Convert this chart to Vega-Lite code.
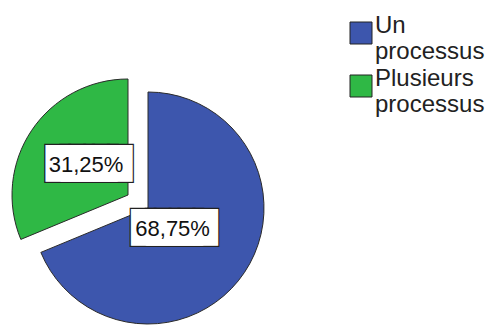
{
  "$schema": "https://vega.github.io/schema/vega-lite/v6.json",
  "width": 232,
  "height": 232,
  "autosize": {"type": "none"},
  "padding": {"left": 32, "top": 92, "right": 224, "bottom": 3},
  "background": "white",
  "config": {"view": {"stroke": null}},
  "data": {
    "values": [
      {"cat": "Un processus", "value": 22, "label": "68,75%"},
      {"cat": "Plusieurs processus", "value": 10, "label": "31,25%"}
    ]
  },
  "encoding": {
    "theta": {"field": "value", "type": "quantitative", "stack": true},
    "order": {"field": "value", "sort": "descending"}
  },
  "layer": [
    {
      "mark": {"type": "arc", "radius": 116, "stroke": "#2a2a2a", "strokeWidth": 1},
      "encoding": {
        "color": {
          "field": "cat", "type": "nominal",
          "scale": {"domain": ["Un processus", "Plusieurs processus"], "range": ["#3d56ad", "#2fb845"]},
          "legend": {
            "orient": "none", "legendX": 317, "legendY": -71, "title": null,
            "symbolType": "square", "symbolSize": 484, "symbolStrokeColor": "#222", "symbolStrokeWidth": 1,
            "labelFont": "Liberation Sans", "labelFontSize": 24, "labelColor": "#222", "labelBaseline": "alphabetic",
            "labelExpr": "split(datum.label, ' ')", "labelOffset": 2, "rowPadding": 3
          }
        },
        "opacity": {"condition": {"test": "datum.cat === 'Un processus'", "value": 1}, "value": 0}
      }
    },
    {
      "mark": {"type": "arc", "radius": 116, "stroke": "#2a2a2a", "strokeWidth": 1, "xOffset": -20, "yOffset": -13},
      "encoding": {
        "color": {"field": "cat", "type": "nominal"},
        "opacity": {"condition": {"test": "datum.cat === 'Plusieurs processus'", "value": 1}, "value": 0}
      }
    },
    {
      "mark": {"type": "text", "radius": 32, "text": "███", "font": "DejaVu Sans", "fontSize": 31, "fill": "white", "stroke": "#222", "strokeWidth": 2.5, "baseline": "middle", "align": "center", "dx": -7.5, "dy": 3},
      "encoding": {"opacity": {"condition": {"test": "datum.cat === 'Un processus'", "value": 1}, "value": 0}}
    },
    {
      "mark": {"type": "text", "radius": 32, "text": "███", "font": "DejaVu Sans", "fontSize": 31, "fill": "white", "stroke": "#222", "strokeWidth": 2.5, "baseline": "middle", "align": "center", "dx": 7.5, "dy": 3},
      "encoding": {"opacity": {"condition": {"test": "datum.cat === 'Un processus'", "value": 1}, "value": 0}}
    },
    {
      "mark": {"type": "text", "radius": 32, "text": "███", "font": "DejaVu Sans", "fontSize": 31, "fill": "white", "baseline": "middle", "align": "center", "dx": -7.5, "dy": 3},
      "encoding": {"opacity": {"condition": {"test": "datum.cat === 'Un processus'", "value": 1}, "value": 0}}
    },
    {
      "mark": {"type": "text", "radius": 32, "text": "███", "font": "DejaVu Sans", "fontSize": 31, "fill": "white", "baseline": "middle", "align": "center", "dx": 7.5, "dy": 3},
      "encoding": {"opacity": {"condition": {"test": "datum.cat === 'Un processus'", "value": 1}, "value": 0}}
    },
    {
      "mark": {"type": "text", "radius": 32, "font": "Liberation Sans", "fontSize": 22, "fill": "#111", "baseline": "middle", "align": "center", "dx": -2, "dy": 3},
      "encoding": {
        "text": {"field": "label"},
        "opacity": {"condition": {"test": "datum.cat === 'Un processus'", "value": 1}, "value": 0}
      }
    },
    {
      "mark": {"type": "text", "radius": 54, "xOffset": -20, "yOffset": -13, "text": "███", "font": "DejaVu Sans", "fontSize": 31, "fill": "white", "stroke": "#222", "strokeWidth": 2.5, "baseline": "middle", "align": "center", "dx": -1.5},
      "encoding": {"opacity": {"condition": {"test": "datum.cat === 'Plusieurs processus'", "value": 1}, "value": 0}}
    },
    {
      "mark": {"type": "text", "radius": 54, "xOffset": -20, "yOffset": -13, "text": "███", "font": "DejaVu Sans", "fontSize": 31, "fill": "white", "stroke": "#222", "strokeWidth": 2.5, "baseline": "middle", "align": "center", "dx": 13.5},
      "encoding": {"opacity": {"condition": {"test": "datum.cat === 'Plusieurs processus'", "value": 1}, "value": 0}}
    },
    {
      "mark": {"type": "text", "radius": 54, "xOffset": -20, "yOffset": -13, "text": "███", "font": "DejaVu Sans", "fontSize": 31, "fill": "white", "baseline": "middle", "align": "center", "dx": -1.5},
      "encoding": {"opacity": {"condition": {"test": "datum.cat === 'Plusieurs processus'", "value": 1}, "value": 0}}
    },
    {
      "mark": {"type": "text", "radius": 54, "xOffset": -20, "yOffset": -13, "text": "███", "font": "DejaVu Sans", "fontSize": 31, "fill": "white", "baseline": "middle", "align": "center", "dx": 13.5},
      "encoding": {"opacity": {"condition": {"test": "datum.cat === 'Plusieurs processus'", "value": 1}, "value": 0}}
    },
    {
      "mark": {"type": "text", "radius": 54, "xOffset": -20, "yOffset": -13, "font": "Liberation Sans", "fontSize": 22, "fill": "#111", "baseline": "middle", "align": "center", "dx": 3},
      "encoding": {
        "text": {"field": "label"},
        "opacity": {"condition": {"test": "datum.cat === 'Plusieurs processus'", "value": 1}, "value": 0}
      }
    }
  ]
}
